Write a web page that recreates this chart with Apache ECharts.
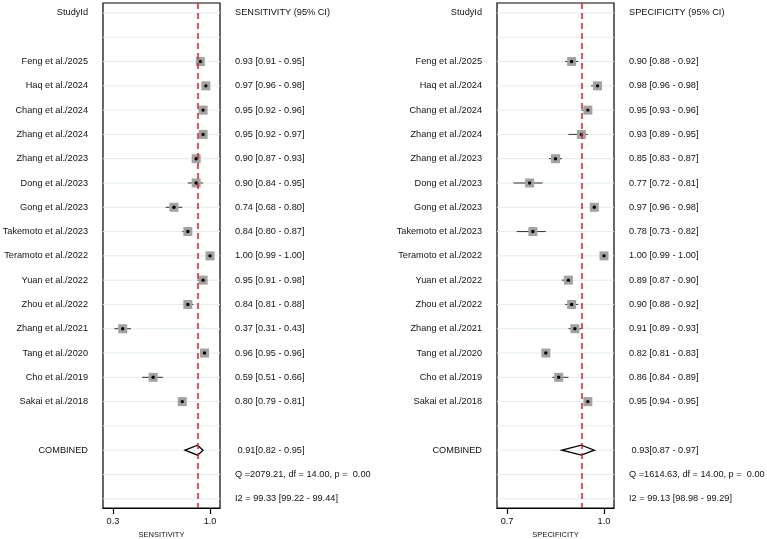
<!DOCTYPE html>
<html>
<head>
<meta charset="utf-8">
<script src="https://cdn.jsdelivr.net/npm/echarts@6/dist/echarts.min.js"></script>
<style>
  html, body { margin: 0; padding: 0; background: #fff; }
  #chart { width: 767px; height: 539px; }
</style>
</head>
<body>
<div id="chart"></div>
<script>
// study names, top to bottom
var studies = ['Feng et al./2025', 'Haq et al./2024', 'Chang et al./2024', 'Zhang et al./2024',
  'Zhang et al./2023', 'Dong et al./2023', 'Gong et al./2023', 'Takemoto et al./2023',
  'Teramoto et al./2022', 'Yuan et al./2022', 'Zhou et al./2022', 'Zhang et al./2021',
  'Tang et al./2020', 'Cho et al./2019', 'Sakai et al./2018'];

var sensEst = [0.93, 0.97, 0.95, 0.95, 0.90, 0.90, 0.74, 0.84, 1.00, 0.95, 0.84, 0.37, 0.96, 0.59, 0.80];
var sensLo  = [0.91, 0.96, 0.92, 0.92, 0.87, 0.84, 0.68, 0.80, 0.99, 0.91, 0.81, 0.31, 0.95, 0.51, 0.79];
var sensHi  = [0.95, 0.98, 0.96, 0.97, 0.93, 0.95, 0.80, 0.87, 1.00, 0.98, 0.88, 0.43, 0.96, 0.66, 0.81];

var specEst = [0.90, 0.98, 0.95, 0.93, 0.85, 0.77, 0.97, 0.78, 1.00, 0.89, 0.90, 0.91, 0.82, 0.86, 0.95];
var specLo  = [0.88, 0.96, 0.93, 0.89, 0.83, 0.72, 0.96, 0.73, 0.99, 0.87, 0.88, 0.89, 0.81, 0.84, 0.94];
var specHi  = [0.92, 0.98, 0.96, 0.95, 0.87, 0.81, 0.98, 0.82, 1.00, 0.90, 0.92, 0.93, 0.83, 0.89, 0.95];

// pooled [estimate, low, high]
var sensPooled = [0.91, 0.82, 0.95];
var specPooled = [0.93, 0.87, 0.97];
var sensQ = '2079.21';
var specQ = '1614.63';
var sensI2 = ['99.33', '99.22', '99.44'];
var specI2 = ['99.13', '98.98', '99.29'];

var sensTicks = [0.3, 1.0];
var specTicks = [0.7, 1.0];

var FONT = 'Liberation Sans, Arial, sans-serif';
var TXT = '#111';
var FS = 9.2;
var ROW_MIN = -0.41, ROW_MAX = 20.38;
var FIRST_STUDY_ROW = 2;
var COMBINED_ROW = FIRST_STUDY_ROW + studies.length + 1;
var NROWS = COMBINED_ROW + 3;

function f2(v) { return v.toFixed(2); }

function leftLabels() {
  var arr = [];
  for (var i = 0; i < NROWS; i++) arr.push('');
  arr[0] = 'StudyId';
  studies.forEach(function (s, i) { arr[FIRST_STUDY_ROW + i] = s; });
  arr[COMBINED_ROW] = 'COMBINED';
  return arr;
}

function rightLabels(title, est, lo, hi, pooled, q, i2) {
  var arr = [];
  for (var i = 0; i < NROWS; i++) arr.push('');
  arr[0] = title;
  est.forEach(function (v, i) {
    arr[FIRST_STUDY_ROW + i] = f2(v) + ' [' + f2(lo[i]) + ' - ' + f2(hi[i]) + ']';
  });
  arr[COMBINED_ROW] = ' ' + f2(pooled[0]) + '[' + f2(pooled[1]) + ' - ' + f2(pooled[2]) + ']';
  arr[COMBINED_ROW + 1] = 'Q =' + q + ', df = ' + (studies.length - 1).toFixed(2) + ', p =  0.00';
  arr[COMBINED_ROW + 2] = 'I2 = ' + i2[0] + ' [' + i2[1] + ' - ' + i2[2] + ']';
  return arr;
}

var rowIdx = [];
for (var r = 0; r < NROWS; r++) rowIdx.push(r);

var namesLeft = leftLabels();
var sensText = rightLabels('SENSITIVITY (95% CI)', sensEst, sensLo, sensHi, sensPooled, sensQ, sensI2);
var specText = rightLabels('SPECIFICITY (95% CI)', specEst, specLo, specHi, specPooled, specQ, specI2);

function renderGridLine(params, api) {
  var cs = params.coordSys;
  var y = api.coord([0, api.value(0)])[1];
  return {
    type: 'line',
    shape: { x1: cs.x, y1: y, x2: cs.x + cs.width, y2: y },
    style: { stroke: '#e2ecf0', lineWidth: 1 }
  };
}

function renderStudy(params, api) {
  var y = api.value(3);
  var c = api.coord([api.value(0), y]);
  var l = api.coord([api.value(1), y]);
  var h = api.coord([api.value(2), y]);
  return {
    type: 'group',
    children: [
      { type: 'line', shape: { x1: l[0], y1: c[1], x2: h[0], y2: c[1] }, style: { stroke: '#333', lineWidth: 1 } },
      { type: 'rect', shape: { x: c[0] - 4.5, y: c[1] - 4.5, width: 9, height: 9 }, style: { fill: '#a2a2a2' } },
      { type: 'circle', shape: { cx: c[0], cy: c[1], r: 1.7 }, style: { fill: '#000' } }
    ]
  };
}

function renderDiamond(params, api) {
  var y = api.value(3);
  var c = api.coord([api.value(0), y]);
  var l = api.coord([api.value(1), y]);
  var h = api.coord([api.value(2), y]);
  return {
    type: 'polygon',
    shape: { points: [[l[0], c[1]], [c[0], c[1] - 5], [h[0], c[1]], [c[0], c[1] + 5]] },
    style: { fill: 'none', stroke: '#000', lineWidth: 1.3 }
  };
}

function panelSeries(idx, est, lo, hi, pooled) {
  var studyData = est.map(function (v, i) { return [v, lo[i], hi[i], FIRST_STUDY_ROW + i]; });
  return [
    {
      type: 'custom', xAxisIndex: idx, yAxisIndex: idx * 2, silent: true,
      renderItem: renderGridLine, data: rowIdx.map(function (r) { return [r]; }),
      encode: { y: 0 }, z: 1
    },
    {
      type: 'custom', xAxisIndex: idx, yAxisIndex: idx * 2, silent: true,
      renderItem: renderDiamond, data: [[pooled[0], pooled[1], pooled[2], COMBINED_ROW]],
      encode: { x: [0, 1, 2], y: 3 }, z: 3,
      markLine: {
        silent: true, symbol: 'none', label: { show: false },
        lineStyle: { color: '#d9202b', type: [6, 4], width: 1.5 },
        data: [{ xAxis: pooled[0] }]
      }
    },
    {
      type: 'custom', xAxisIndex: idx, yAxisIndex: idx * 2, silent: true,
      renderItem: renderStudy, data: studyData,
      encode: { x: [0, 1, 2], y: 3 }, z: 4
    }
  ];
}

function xAxisFor(idx, ticks, min, max, name) {
  return {
    type: 'value', gridIndex: idx, min: min, max: max, position: 'bottom',
    axisLine: { show: true, onZero: false, lineStyle: { color: '#000', width: 1.2 } },
    axisTick: { show: true, customValues: ticks, length: 6, lineStyle: { color: '#000', width: 1.2 } },
    axisLabel: {
      customValues: ticks, margin: 9, fontSize: FS, color: TXT, fontFamily: FONT,
      formatter: function (v) { return v.toFixed(1); }
    },
    splitLine: { show: false },
    name: name, nameLocation: 'middle', nameGap: 21,
    nameTextStyle: { fontSize: 7.5, color: TXT, fontFamily: FONT }
  };
}

function yAxisFor(idx, position, labels, margin) {
  return {
    type: 'value', gridIndex: idx, position: position, inverse: true,
    min: ROW_MIN, max: ROW_MAX,
    axisLine: { show: false, onZero: false }, axisTick: { show: false }, splitLine: { show: false },
    axisLabel: {
      customValues: rowIdx, margin: margin, fontSize: FS, color: TXT, fontFamily: FONT,
      formatter: function (v) { return labels[Math.round(v)] || ''; }
    }
  };
}

var gridBase = {
  top: 3, height: 505, width: 117, show: true, borderColor: '#000', borderWidth: 1.2,
  backgroundColor: 'transparent', containLabel: false, outerBoundsMode: 'none'
};

var option = {
  animation: false,
  backgroundColor: '#fff',
  grid: [
    Object.assign({ left: 103 }, gridBase),
    Object.assign({ left: 497 }, gridBase)
  ],
  xAxis: [
    xAxisFor(0, sensTicks, 0.228, 1.072, 'SENSITIVITY'),
    xAxisFor(1, specTicks, 0.669, 1.031, 'SPECIFICITY')
  ],
  yAxis: [
    yAxisFor(0, 'left', namesLeft, 15),
    yAxisFor(0, 'right', sensText, 15),
    yAxisFor(1, 'left', namesLeft, 15),
    yAxisFor(1, 'right', specText, 15)
  ],
  series: [].concat(
    panelSeries(0, sensEst, sensLo, sensHi, sensPooled),
    panelSeries(1, specEst, specLo, specHi, specPooled)
  )
};

var chart = echarts.init(document.getElementById('chart'), null, { renderer: 'canvas' });
chart.setOption(option);
</script>
</body>
</html>
